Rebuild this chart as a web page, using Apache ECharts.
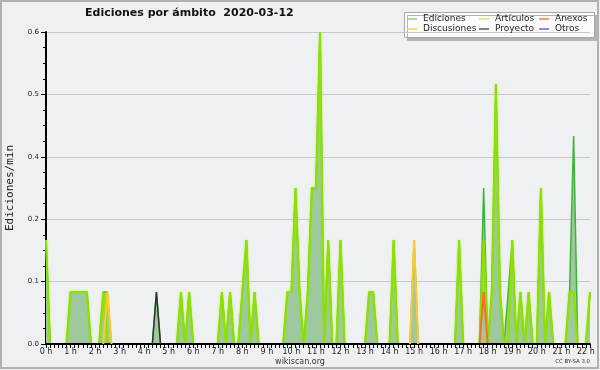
<!DOCTYPE html>
<html><head><meta charset="utf-8">
<script src="https://cdn.jsdelivr.net/npm/echarts@6/dist/echarts.min.js"></script>
<style>html,body{margin:0;padding:0;background:#eff0f2}#c{width:600px;height:370px}</style>
</head><body><div id="c"></div>
<script>
const TITLE = 'Ediciones por ámbito  2020-03-12';
const Y_NAME = 'Ediciones/min';
const BINS_PER_HOUR = 6;          // 10-minute bins
const LAST_BIN = 133;             // 22:10
const seriesNames = ['Ediciones', 'Artículos', 'Anexos', 'Discusiones', 'Proyecto', 'Otros'];

// values in edits/min, one per 10-minute bin (bin 0 = 0:00)
const ediciones = [
  0.2,0,0,0,0,0, 0.1,0.1,0.1,0.1,0.1,0,
  0,0,0.1,0.1,0,0, 0,0,0,0,0,0,
  0,0,0,0.1,0,0, 0,0,0,0.1,0,0.1,
  0,0,0,0,0,0, 0,0.1,0,0.1,0,0,
  0.1,0.2,0,0.1,0,0, 0,0,0,0,0,0.1,
  0.1,0.3,0.1,0,0.1,0.3, 0.3,0.6,0,0.2,0,0,
  0.2,0,0,0,0,0, 0,0.1,0.1,0,0,0,
  0,0.2,0,0,0,0, 0.2,0,0,0,0,0,
  0,0,0,0,0,0.2, 0,0,0,0,0,0.3,
  0,0.1,0.5,0.1,0,0.1, 0.2,0,0.1,0,0.1,0,
  0,0.3,0,0.1,0,0, 0,0,0.1,0.4,0,0,
  0,0.1
];
const articulos = [
  0.2,0,0,0,0,0, 0.1,0.1,0.1,0.1,0.1,0,
  0,0,0.1,0,0,0, 0,0,0,0,0,0,
  0,0,0,0,0,0, 0,0,0,0.1,0,0.1,
  0,0,0,0,0,0, 0,0.1,0,0.1,0,0,
  0.1,0.2,0,0.1,0,0, 0,0,0,0,0,0.1,
  0.1,0.3,0.1,0,0.1,0.3, 0.3,0.6,0,0.2,0,0,
  0.2,0,0,0,0,0, 0,0.1,0.1,0,0,0,
  0,0.2,0,0,0,0, 0,0,0,0,0,0,
  0,0,0,0,0,0.2, 0,0,0,0,0,0.2,
  0,0.1,0.5,0.1,0,0, 0.2,0,0.1,0,0.1,0,
  0,0.3,0,0.1,0,0, 0,0,0.1,0.1,0,0,
  0,0.1
];
const anexos = [
  0,0,0,0,0,0, 0,0,0,0,0,0,
  0,0,0,0,0,0, 0,0,0,0,0,0,
  0,0,0,0,0,0, 0,0,0,0,0,0,
  0,0,0,0,0,0, 0,0,0,0,0,0,
  0,0,0,0,0,0, 0,0,0,0,0,0,
  0,0,0,0,0,0, 0,0,0,0,0,0,
  0,0,0,0,0,0, 0,0,0,0,0,0,
  0,0,0,0,0,0, 0,0,0,0,0,0,
  0,0,0,0,0,0, 0,0,0,0,0,0.1,
  0,0,0,0,0,0, 0,0,0,0,0,0,
  0,0,0,0,0,0, 0,0,0,0,0,0,
  0,0
];
const discusiones = [
  0,0,0,0,0,0, 0,0,0,0,0,0,
  0,0,0,0.1,0,0, 0,0,0,0,0,0,
  0,0,0,0,0,0, 0,0,0,0,0,0,
  0,0,0,0,0,0, 0,0,0,0,0,0,
  0,0,0,0,0,0, 0,0,0,0,0,0,
  0,0,0,0,0,0, 0,0,0,0,0,0,
  0,0,0,0,0,0, 0,0,0,0,0,0,
  0,0,0,0,0,0, 0.2,0,0,0,0,0,
  0,0,0,0,0,0, 0,0,0,0,0,0,
  0,0,0,0,0,0, 0,0,0,0,0,0,
  0,0,0,0,0,0, 0,0,0,0,0,0,
  0,0
];
const proyecto = [
  0,0,0,0,0,0, 0,0,0,0,0,0,
  0,0,0,0,0,0, 0,0,0,0,0,0,
  0,0,0,0.1,0,0, 0,0,0,0,0,0,
  0,0,0,0,0,0, 0,0,0,0,0,0,
  0,0,0,0,0,0, 0,0,0,0,0,0,
  0,0,0,0,0,0, 0,0,0,0,0,0,
  0,0,0,0,0,0, 0,0,0,0,0,0,
  0,0,0,0,0,0, 0,0,0,0,0,0,
  0,0,0,0,0,0, 0,0,0,0,0,0,
  0,0,0,0,0,0, 0,0,0,0,0,0,
  0,0,0,0,0,0, 0,0,0,0,0,0,
  0,0
];
const otros = [
  0,0,0,0,0,0, 0,0,0,0,0,0,
  0,0,0,0,0,0, 0,0,0,0,0,0,
  0,0,0,0,0,0, 0,0,0,0,0,0,
  0,0,0,0,0,0, 0,0,0,0,0,0,
  0,0,0,0,0,0, 0,0,0,0,0,0,
  0,0,0,0,0,0, 0,0,0,0,0,0,
  0,0,0,0,0,0, 0,0,0,0,0,0,
  0,0,0,0,0,0, 0,0,0,0,0,0,
  0,0,0,0,0,0, 0,0,0,0,0,0,
  0,0,0,0,0,0, 0,0,0,0,0,0,
  0,0,0,0,0,0, 0,0,0,0,0,0,
  0,0
];
const yTicks = [0, 0.12, 0.24, 0.36, 0.48, 0.6];

const FONT = 'DejaVu Sans';
function pairs(arr, sparse) {
  return arr.map((v, i) => {
    if (sparse && v === 0 && !(arr[i - 1] > 0) && !(arr[i + 1] > 0)) return [i, null];
    return [i, v];
  });
}
const lineColors = {
  'Ediciones': '#3cb43c', 'Artículos': '#8ee000', 'Anexos': '#ff6a2a',
  'Discusiones': '#ffc830', 'Proyecto': '#333333', 'Otros': '#9040ff'
};
const legendColors = {
  'Ediciones': '#8fd08f', 'Artículos': '#d0f060', 'Anexos': '#ff7a48',
  'Discusiones': '#ffd04a', 'Proyecto': '#5a5a5a', 'Otros': '#9050f0'
};
const dataMap = {
  'Ediciones': ediciones, 'Artículos': articulos, 'Anexos': anexos,
  'Discusiones': discusiones, 'Proyecto': proyecto, 'Otros': otros
};

const series = seriesNames.map((name, idx) => {
  const s = {
    name, type: 'line', symbol: 'none', animation: false,
    color: legendColors[name],
    data: pairs(dataMap[name], idx !== 0),
    lineStyle: {
      color: lineColors[name],
      width: idx === 0 ? 1.5 : (name === 'Proyecto' ? 1.5 : 2),
      shadowBlur: idx === 1 ? 2 : 0,
      shadowColor: idx === 1 ? 'rgba(150,230,0,0.7)' : 'transparent'
    },
    z: 2 + idx
  };
  if (idx === 0) s.areaStyle = { color: '#9ec99e', opacity: 1 };
  return s;
});

function legendCol(left, names) {
  return {
    left, top: 14.5, orient: 'vertical', padding: 0, itemGap: 1,
    itemWidth: 10, itemHeight: 1.5, icon: 'rect', selectedMode: false,
    textStyle: { fontFamily: FONT, fontSize: 9, color: '#222', padding: [0, 0, 0, 1] },
    data: names.map(n => ({ name: n, itemStyle: { color: legendColors[n], borderWidth: 0 } }))
  };
}

const chart = echarts.init(document.getElementById('c'), null, { renderer: 'canvas' });
chart.setOption({
  animation: false,
  backgroundColor: '#eff0f2',
  title: {
    text: TITLE, left: 85, top: 8, padding: 0,
    textStyle: { fontFamily: FONT, fontWeight: 'bold', fontSize: 11, color: '#111' }
  },
  legend: [
    legendCol(407, ['Ediciones', 'Discusiones']),
    legendCol(479, ['Artículos', 'Proyecto']),
    legendCol(539, ['Anexos', 'Otros'])
  ],
  grid: { left: 46, right: 10, top: 32, bottom: 26, containLabel: false, outerBoundsMode: 'none' },
  xAxis: {
    type: 'value', min: 0, max: LAST_BIN, interval: BINS_PER_HOUR, z: 5,
    axisLine: { show: true, lineStyle: { color: '#000', width: 2 } },
    axisTick: { show: true, length: 4, lineStyle: { color: '#000' } },
    minorTick: { show: true, splitNumber: BINS_PER_HOUR, length: 4, lineStyle: { color: '#000' } },
    splitLine: { show: false },
    axisLabel: {
      fontFamily: FONT, fontSize: 8, color: '#222', margin: 4,
      showMaxLabel: false,
      formatter: v => (v % BINS_PER_HOUR === 0 ? (v / BINS_PER_HOUR) + ' h' : '')
    }
  },
  yAxis: {
    type: 'value', min: yTicks[0], max: yTicks[yTicks.length - 1], interval: yTicks[1] - yTicks[0],
    name: Y_NAME, nameLocation: 'middle', nameGap: 30, nameRotate: 90,
    nameTextStyle: { fontFamily: 'DejaVu Sans Mono', fontSize: 11, color: '#222' },
    axisLine: { show: true, lineStyle: { color: '#000', width: 2 } },
    axisTick: { show: true, length: 5, lineStyle: { color: '#000' } },
    minorTick: { show: true, splitNumber: 4, length: 3, lineStyle: { color: '#000' } },
    splitLine: { show: true, lineStyle: { color: '#c8c8c8', width: 1 } },
    axisLabel: { fontFamily: FONT, fontSize: 7, color: '#222', margin: 7, formatter: v => v.toFixed(1) }
  },
  graphic: [
    { type: 'rect', z: -10, silent: true, shape: { x: 1, y: 1, width: 597, height: 367 },
      style: { fill: null, stroke: '#b0b0b0', lineWidth: 2 } },
    { type: 'rect', z: 0, silent: true, shape: { x: 404.5, y: 12.5, width: 190, height: 25 },
      style: { fill: '#fcfcfc', stroke: '#a8a8a8', lineWidth: 1, shadowColor: '#b4b4b4', shadowOffsetX: 3, shadowOffsetY: 3, shadowBlur: 0 } },
    { type: 'text', silent: true, left: 'center', top: 357.5,
      style: { text: 'wikiscan.org', font: '8px "DejaVu Sans"', fill: '#333' } },
    { type: 'text', silent: true, right: 10, top: 359,
      style: { text: 'CC BY-SA 3.0', font: '5.4px "DejaVu Sans"', fill: '#333' } }
  ],
  series
});
</script></body></html>
